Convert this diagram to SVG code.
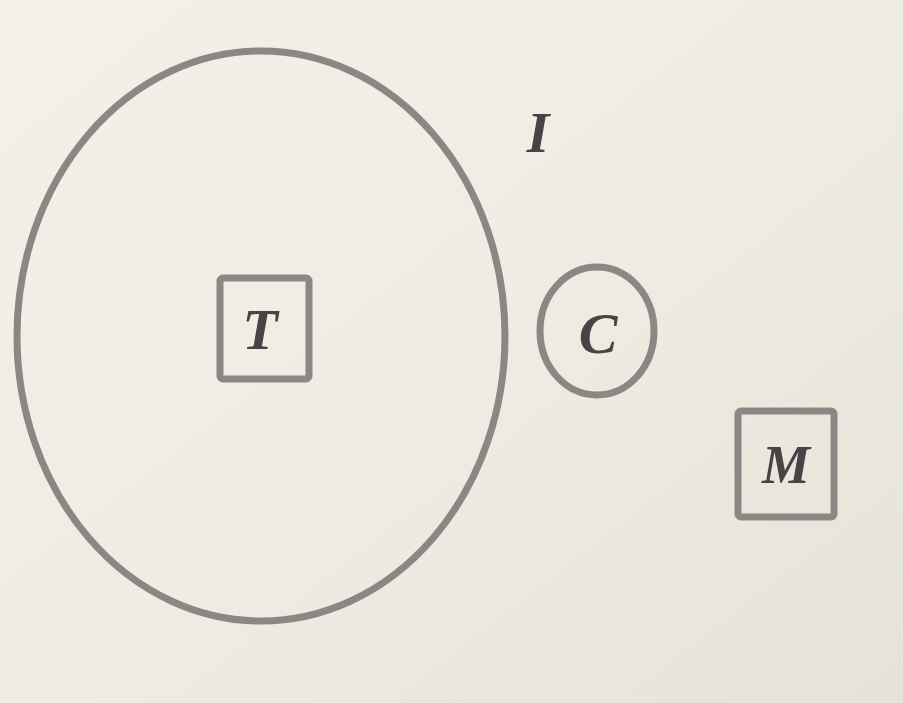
<svg xmlns="http://www.w3.org/2000/svg" width="903" height="703" viewBox="0 0 903 703">
<defs>
<linearGradient id="bg" x1="0" y1="0" x2="1" y2="1">
<stop offset="0" stop-color="#f3f0e8"/>
<stop offset="0.5" stop-color="#efece3"/>
<stop offset="1" stop-color="#e6e2d8"/>
</linearGradient>
<style>
.shape{fill:none;stroke:#8e8585;stroke-width:7}
.lbl{font-family:"Liberation Serif",serif;font-weight:bold;font-style:italic;fill:#4a4244;text-anchor:middle;dominant-baseline:central}
</style>
</defs>
<rect width="903" height="703" fill="url(#bg)"/>
<g id="universe">
<ellipse class="shape" cx="261" cy="336" rx="244" ry="285"/>
</g>
<g id="node-T">
<rect class="shape" x="220" y="278" width="89" height="101" rx="3"/>
<text class="lbl" x="260" y="329" font-size="58">T</text>
</g>
<g id="node-C">
<ellipse class="shape" cx="597" cy="331" rx="57" ry="64"/>
<text class="lbl" x="598" y="333" font-size="58">C</text>
</g>
<g id="node-M">
<rect class="shape" x="738" y="411" width="96" height="106" rx="3"/>
<text class="lbl" x="786" y="465" font-size="54">M</text>
</g>
<g id="label-I">
<text class="lbl" x="538" y="132" font-size="58">I</text>
</g>
<g id="connectors"/>
</svg>
